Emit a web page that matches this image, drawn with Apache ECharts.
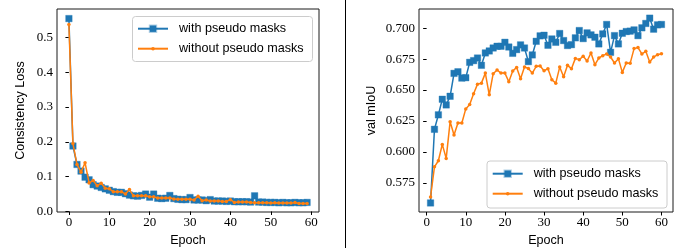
<!DOCTYPE html>
<html><head><meta charset="utf-8">
<script src="https://cdn.jsdelivr.net/npm/echarts@6/dist/echarts.min.js"></script>
<style>html,body{margin:0;padding:0;background:#fff}#c{width:678px;height:248px}</style>
</head><body><div id="c"></div>
<script>
const seriesNames = ['with pseudo masks', 'without pseudo masks'];
const lossEpochs = [0,1,2,3,4,5,6,7,8,9,10,11,12,13,14,15,16,17,18,19,20,21,22,23,24,25,26,27,28,29,30,31,32,33,34,35,36,37,38,39,40,41,42,43,44,45,46,47,48,49,50,51,52,53,54,55,56,57,58,59];
const lossWith = [0.554,0.188,0.135,0.116,0.0985,0.091,0.077,0.073,0.069,0.065,0.061,0.057,0.055,0.055,0.051,0.047,0.045,0.044,0.046,0.050,0.041,0.050,0.038,0.037,0.038,0.046,0.037,0.035,0.034,0.034,0.040,0.033,0.033,0.033,0.031,0.034,0.030,0.030,0.030,0.029,0.030,0.028,0.028,0.028,0.028,0.027,0.045,0.027,0.027,0.026,0.026,0.026,0.025,0.026,0.025,0.025,0.026,0.025,0.025,0.026];
const lossWithout = [0.537,0.195,0.135,0.113,0.140,0.082,0.089,0.074,0.081,0.067,0.065,0.057,0.057,0.057,0.050,0.063,0.045,0.045,0.045,0.045,0.042,0.042,0.0385,0.039,0.039,0.0385,0.036,0.035,0.035,0.035,0.035,0.033,0.044,0.031,0.033,0.030,0.030,0.030,0.029,0.029,0.034,0.026,0.027,0.027,0.027,0.026,0.025,0.025,0.025,0.025,0.024,0.025,0.024,0.024,0.024,0.024,0.026,0.023,0.023,0.023];
const miouEpochs = [1,2,3,4,5,6,7,8,9,10,11,12,13,14,15,16,17,18,19,20,21,22,23,24,25,26,27,28,29,30,31,32,33,34,35,36,37,38,39,40,41,42,43,44,45,46,47,48,49,50,51,52,53,54,55,56,57,58,59,60];
const miouWith = [0.5588,0.6183,0.630,0.6426,0.638,0.645,0.6635,0.6648,0.6597,0.660,0.6724,0.6738,0.6759,0.670,0.680,0.6816,0.684,0.6854,0.6854,0.6886,0.6848,0.6797,0.6827,0.6865,0.684,0.673,0.6784,0.6894,0.6938,0.6943,0.6862,0.6913,0.6886,0.6957,0.690,0.686,0.6867,0.6922,0.6981,0.6916,0.6962,0.6946,0.6927,0.6873,0.6954,0.703,0.6805,0.694,0.6873,0.6959,0.6973,0.6976,0.6986,0.694,0.7003,0.7038,0.7081,0.6992,0.7027,0.703];
const miouWithout = [0.5636,0.588,0.5929,0.6061,0.5948,0.6245,0.6137,0.6234,0.6234,0.6348,0.6383,0.647,0.6548,0.6556,0.6637,0.6462,0.6632,0.6662,0.6637,0.6637,0.6567,0.6654,0.6683,0.6591,0.6686,0.6675,0.6637,0.6692,0.6694,0.6656,0.6673,0.6583,0.6556,0.6686,0.6608,0.670,0.6673,0.6756,0.6746,0.6773,0.6735,0.680,0.6705,0.6759,0.6778,0.6792,0.6767,0.6719,0.6754,0.6643,0.6719,0.6716,0.6835,0.6843,0.6792,0.6813,0.6727,0.6767,0.6786,0.6794];
const epochTicks = [0,10,20,30,40,50,60];
const lossTicks = [0.0,0.1,0.2,0.3,0.4,0.5];
const miouTicks = [0.575,0.600,0.625,0.650,0.675,0.700];

const BLUE = '#1f77b4', ORANGE = '#ff7f0e';
const tickFont = {fontFamily: 'Liberation Serif', fontSize: 13, color: '#000'};
const sans = 'Liberation Sans';

function xAxisDef(gi, min, max) {
  return {
    type: 'value', gridIndex: gi, min: min, max: max,
    name: 'Epoch', nameLocation: 'middle', nameGap: 22,
    nameTextStyle: {fontFamily: sans, fontSize: 12.6, color: '#000'},
    axisLine: {show: false},
    splitLine: {show: false},
    axisTick: {show: true, inside: false, length: 3.5, customValues: epochTicks, lineStyle: {color: '#000', width: 1}},
    axisLabel: Object.assign({margin: 4, customValues: epochTicks, formatter: v => String(v)}, tickFont)
  };
}
function yAxisDef(gi, min, max, ticks, dec, name, gap) {
  return {
    type: 'value', gridIndex: gi, min: min, max: max,
    name: name, nameLocation: 'middle', nameGap: gap, nameRotate: 90,
    nameTextStyle: {fontFamily: sans, fontSize: 12.6, color: '#000'},
    axisLine: {show: false},
    splitLine: {show: false},
    axisTick: {show: true, inside: false, length: 3.5, customValues: ticks, lineStyle: {color: '#000', width: 1}},
    axisLabel: Object.assign({margin: 4, customValues: ticks, formatter: v => v.toFixed(dec)}, tickFont)
  };
}
function pairs(xs, ys) { return xs.map((x, i) => [x, ys[i]]); }
function blueSeries(xi, yi, data) {
  return {name: seriesNames[0], type: 'line', xAxisIndex: xi, yAxisIndex: yi, data: data,
    symbol: 'rect', symbolSize: 6.5, showAllSymbol: true, clip: false,
    lineStyle: {color: BLUE, width: 1.5}, itemStyle: {color: BLUE, borderColor: 'rgba(31,119,180,0.35)', borderWidth: 1},
    emphasis: {disabled: true}, animation: false, z: 2};
}
function orangeSeries(xi, yi, data) {
  return {name: seriesNames[1], type: 'line', xAxisIndex: xi, yAxisIndex: yi, data: data,
    symbol: 'circle', symbolSize: 3.5, showAllSymbol: true, clip: false,
    lineStyle: {color: ORANGE, width: 1.5}, itemStyle: {color: ORANGE},
    emphasis: {disabled: true}, animation: false, z: 3};
}
function legendDef(name, left, top, itemH) {
  return {
    orient: 'horizontal', left: left, top: top, itemWidth: 30, itemHeight: itemH,
    padding: 0, z: 60,
    textStyle: {fontFamily: sans, fontSize: 12.6, color: '#000', padding: [0, 0, 0, 6]},
    data: [name], selectedMode: false
  };
}
function legendBox(x, y, w, h) {
  return {type: 'rect', z: 50, shape: {x: x, y: y, width: w, height: h, r: 3},
    style: {fill: 'rgba(255,255,255,0.8)', stroke: '#cccccc', lineWidth: 1}};
}

const chart = echarts.init(document.getElementById('c'), null, {renderer: 'canvas'});
chart.setOption({
  animation: false,
  grid: [
    {left: 57, top: 9, width: 262, height: 203, show: true, borderColor: '#1a1a1a', borderWidth: 1, backgroundColor: 'transparent', containLabel: false, outerBoundsMode: 'none'},
    {left: 419, top: 9, width: 254, height: 203, show: true, borderColor: '#1a1a1a', borderWidth: 1, backgroundColor: 'transparent', containLabel: false, outerBoundsMode: 'none'}
  ],
  xAxis: [xAxisDef(0, -2.95, 61.95), xAxisDef(1, -1.95, 62.95)],
  yAxis: [
    yAxisDef(0, -0.0015, 0.5815, lossTicks, 1, 'Consistency Loss', 30),
    yAxisDef(1, 0.5515, 0.7155, miouTicks, 3, 'val mIoU', 41)
  ],
  legend: [
    legendDef(seriesNames[0], 137, 22.2, 8),
    legendDef(seriesNames[1], 137, 42.2, 4.5),
    legendDef(seriesNames[0], 491.7, 167.2, 8),
    legendDef(seriesNames[1], 491.7, 187.2, 4.5)
  ],
  series: [
    blueSeries(0, 0, pairs(lossEpochs, lossWith)),
    orangeSeries(0, 0, pairs(lossEpochs, lossWithout)),
    blueSeries(1, 1, pairs(miouEpochs, miouWith)),
    orangeSeries(1, 1, pairs(miouEpochs, miouWithout))
  ],
  graphic: [
    legendBox(132.5, 16.5, 180, 45),
    legendBox(487, 161, 180, 47),
    {type: 'line', shape: {x1: 345.5, y1: 0, x2: 345.5, y2: 248}, style: {stroke: '#000', lineWidth: 1}}
  ]
});
</script></body></html>
